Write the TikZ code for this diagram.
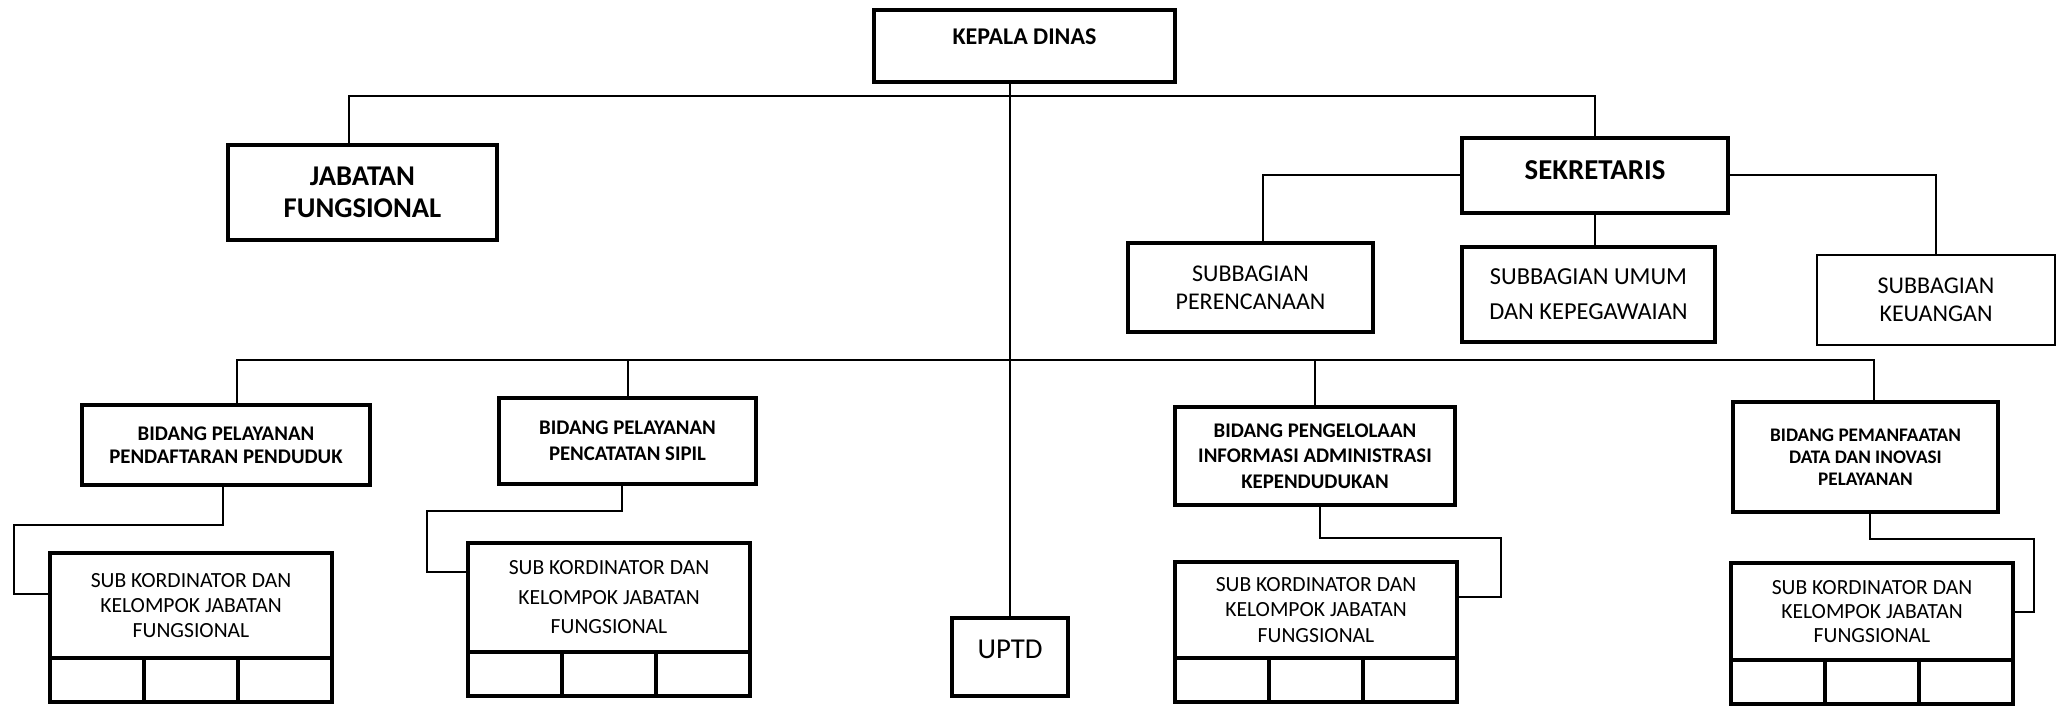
\documentclass[tikz,border=0pt]{standalone}
\usepackage{fontspec}
\setmainfont{Carlito}
\usepackage{tikz}
\usetikzlibrary{calc}

\tikzset{
  box/.style={draw, line width=2.4pt, rectangle, align=center, inner sep=0pt, outer sep=0pt},
  thinbox/.style={box, line width=1.3pt},
  cell/.style={draw, line width=2.1pt, minimum width=47pt, minimum height=22pt, inner sep=0pt, outer sep=0pt, anchor=north},
  link/.style={line width=1pt},
}

\begin{document}
\begin{tikzpicture}[x=0.5pt, y=-0.5pt]
        \useasboundingbox (0,0) rectangle (2063,706);
        \coordinate (topbus) at (0,96);
        \coordinate (lowbus) at (0,360);

        \node[box, minimum width=150.5pt, minimum height=36pt, font=\bfseries\fontsize{12}{14}\selectfont, text height=8pt, text depth=9pt] (kepala) at (1024.5,46) {KEPALA DINAS};
        \node[box, minimum width=134.5pt, minimum height=47.5pt, font=\bfseries\fontsize{14.3}{16}\selectfont] (jabatan) at (362.5,192.5) {JABATAN\\FUNGSIONAL};
        \node[box, minimum width=133pt, minimum height=37.5pt, font=\bfseries\fontsize{14.4}{16}\selectfont, text height=9.3pt, text depth=5.5pt] (sekretaris) at (1595,175.5) {SEKRETARIS};

        \node[box, minimum width=122.5pt, minimum height=44.5pt, font=\fontsize{12}{14}\selectfont] (perencanaan) at (1250.5,287.5) {SUBBAGIAN\\PERENCANAAN};
        \node[box, minimum width=126.5pt, minimum height=47.5pt, font=\fontsize{12.2}{17.5}\selectfont] (umum) at (1588.5,294.5) {SUBBAGIAN UMUM\\DAN KEPEGAWAIAN};
        \node[thinbox, minimum width=119pt, minimum height=45pt, font=\fontsize{12}{14}\selectfont] (keuangan) at (1936,300) {SUBBAGIAN\\KEUANGAN};

        \node[box, minimum width=144pt, minimum height=40pt, font=\bfseries\fontsize{10.4}{11.5}\selectfont] (bid1) at (226,445) {BIDANG PELAYANAN\\PENDAFTARAN PENDUDUK};
        \node[box, minimum width=128.5pt, minimum height=43pt, font=\bfseries\fontsize{10.4}{13}\selectfont] (bid2) at (627.5,441) {BIDANG PELAYANAN\\PENCATATAN SIPIL};
        \node[box, minimum width=140pt, minimum height=49pt, font=\bfseries\fontsize{10.4}{12.75}\selectfont] (bid3) at (1315,456) {BIDANG PENGELOLAAN\\INFORMASI ADMINISTRASI\\KEPENDUDUKAN};
        \node[box, minimum width=132.5pt, minimum height=55pt, font=\bfseries\fontsize{9.6}{11}\selectfont] (bid4) at (1865.5,457) {BIDANG PEMANFAATAN\\DATA DAN INOVASI\\PELAYANAN};
        \node[box, minimum width=58pt, minimum height=39pt, font=\fontsize{14.4}{16}\selectfont, text height=9.3pt, text depth=8pt] (uptd) at (1010,657) {UPTD};

        \node[box, minimum width=141pt, minimum height=52.5pt, font=\fontsize{10.8}{12.5}\selectfont] (sub1) at (191,605.5) {SUB KORDINATOR DAN\\KELOMPOK JABATAN\\FUNGSIONAL};
        \node[box, minimum width=141pt, minimum height=54.5pt, font=\fontsize{10.8}{14.75}\selectfont] (sub2) at (609,597.5) {SUB KORDINATOR DAN\\KELOMPOK JABATAN\\FUNGSIONAL};
        \node[box, minimum width=141pt, minimum height=48pt, font=\fontsize{10.8}{12.75}\selectfont] (sub3) at (1316,610) {SUB KORDINATOR DAN\\KELOMPOK JABATAN\\FUNGSIONAL};
        \node[box, minimum width=141pt, minimum height=48.5pt, font=\fontsize{10.8}{12}\selectfont] (sub4) at (1872,611.5) {SUB KORDINATOR DAN\\KELOMPOK JABATAN\\FUNGSIONAL};

        \foreach \s in {sub1,sub2,sub3,sub4}
            \foreach \k in {1,2,3}
                \node[cell] (\s-\k) at ($(\s.south west)!{(\k-0.5)/3}!(\s.south east)$) {};

        \draw[link] (uptd.north) -- (uptd.north |- kepala.south);
        \draw[link] ([xshift=-7pt]jabatan.north) |- (sekretaris.north |- topbus) -- (sekretaris.north);

        \draw[link] (sekretaris.west) -| ([xshift=6pt]perencanaan.north);
        \draw[link] (sekretaris.east) -| (keuangan.north);
        \draw[link] (sekretaris.south) -- (sekretaris.south |- umum.north);

        \draw[link] ([xshift=5.5pt]bid1.north) |- ([xshift=4pt]bid4.north |- lowbus) -- ([xshift=4pt]bid4.north);
        \draw[link] (bid2.north) -- (bid2.north |- lowbus);
        \draw[link] (bid3.north) -- (bid3.north |- lowbus);

        \draw[link] ([xshift=-1.5pt]bid1.south) -- ++(0,40) -| ([xshift=-18pt,yshift=6pt]sub1.west) -- ([yshift=6pt]sub1.west);
        \draw[link] ([xshift=-3pt]bid2.south) -- ++(0,27) -| ([xshift=-20.5pt,yshift=13pt]sub2.west) -- ([yshift=13pt]sub2.west);
        \draw[link] ([xshift=2.5pt]bid3.south) -- ++(0,33) -| ([xshift=22pt,yshift=6.5pt]sub3.east) -- ([yshift=6.5pt]sub3.east);
        \draw[link] ([xshift=2pt]bid4.south) -- ++(0,27) -| ([xshift=10.5pt]sub4.east) -- (sub4.east);
\end{tikzpicture}
\end{document}
